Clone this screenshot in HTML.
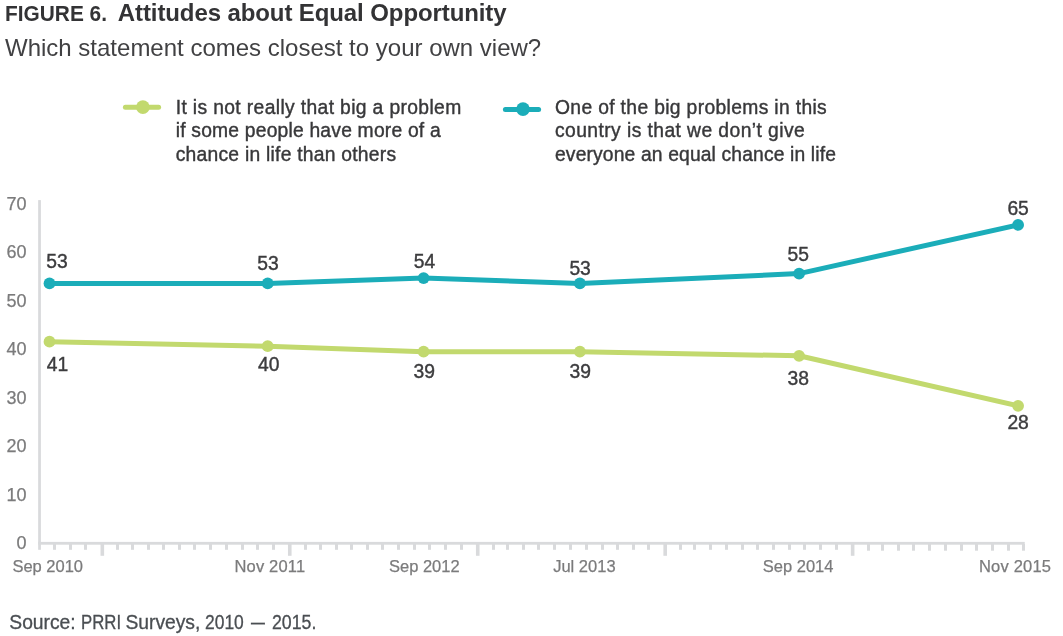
<!DOCTYPE html>
<html><head><meta charset="utf-8"><title>Figure 6</title>
<style>
html,body{margin:0;padding:0;background:#fff;}
body{width:1063px;height:636px;position:relative;overflow:hidden;font-family:"Liberation Sans",sans-serif;}
.t{position:absolute;white-space:nowrap;line-height:1;}
svg{position:absolute;left:0;top:0;}
.yl{color:#7b7b7c;-webkit-text-stroke:0.25px #7b7b7c;font-size:18px;width:30px;text-align:right;}
.xl{color:#7b7b7c;-webkit-text-stroke:0.25px #7b7b7c;font-size:16.5px;}
.dl{color:#3c3c3e;font-size:19.3px;-webkit-text-stroke:0.4px #3c3c3e;}
.lg{color:#38383a;font-size:19.3px;line-height:23.45px;letter-spacing:0.27px;-webkit-text-stroke:0.4px #38383a;}
</style></head><body>
<svg width="1063" height="636" viewBox="0 0 1063 636">
<rect x="38.15" y="200.1" width="2.75" height="349.7" fill="#d9dadc"/>
<rect x="38.15" y="541.9" width="986.6" height="2.8" fill="#d9dadc"/>
<rect x="53" y="544" width="3" height="5.8" fill="#d9dadc"/><rect x="69" y="544" width="3" height="5.8" fill="#d9dadc"/><rect x="84" y="544" width="3" height="5.8" fill="#d9dadc"/><rect x="100.52" y="544" width="3.6" height="11.8" fill="#d9dadc"/><rect x="116" y="544" width="3" height="5.8" fill="#d9dadc"/><rect x="131" y="544" width="3" height="5.8" fill="#d9dadc"/><rect x="147" y="544" width="3" height="5.8" fill="#d9dadc"/><rect x="162" y="544" width="3" height="5.8" fill="#d9dadc"/><rect x="178" y="544" width="3" height="5.8" fill="#d9dadc"/><rect x="193" y="544" width="3" height="5.8" fill="#d9dadc"/><rect x="209" y="544" width="3" height="5.8" fill="#d9dadc"/><rect x="225" y="544" width="3" height="5.8" fill="#d9dadc"/><rect x="241" y="544" width="3" height="5.8" fill="#d9dadc"/><rect x="256" y="544" width="3" height="5.8" fill="#d9dadc"/><rect x="272" y="544" width="3" height="5.8" fill="#d9dadc"/><rect x="287.97" y="544" width="3.6" height="11.8" fill="#d9dadc"/><rect x="304" y="544" width="3" height="5.8" fill="#d9dadc"/><rect x="319" y="544" width="3" height="5.8" fill="#d9dadc"/><rect x="335" y="544" width="3" height="5.8" fill="#d9dadc"/><rect x="350" y="544" width="3" height="5.8" fill="#d9dadc"/><rect x="366" y="544" width="3" height="5.8" fill="#d9dadc"/><rect x="381" y="544" width="3" height="5.8" fill="#d9dadc"/><rect x="397" y="544" width="3" height="5.8" fill="#d9dadc"/><rect x="413" y="544" width="3" height="5.8" fill="#d9dadc"/><rect x="428" y="544" width="3" height="5.8" fill="#d9dadc"/><rect x="444" y="544" width="3" height="5.8" fill="#d9dadc"/><rect x="460" y="544" width="3" height="5.8" fill="#d9dadc"/><rect x="475.94" y="544" width="3.6" height="11.8" fill="#d9dadc"/><rect x="492" y="544" width="3" height="5.8" fill="#d9dadc"/><rect x="506" y="544" width="3" height="5.8" fill="#d9dadc"/><rect x="522" y="544" width="3" height="5.8" fill="#d9dadc"/><rect x="537" y="544" width="3" height="5.8" fill="#d9dadc"/><rect x="553" y="544" width="3" height="5.8" fill="#d9dadc"/><rect x="569" y="544" width="3" height="5.8" fill="#d9dadc"/><rect x="585" y="544" width="3" height="5.8" fill="#d9dadc"/><rect x="601" y="544" width="3" height="5.8" fill="#d9dadc"/><rect x="616" y="544" width="3" height="5.8" fill="#d9dadc"/><rect x="632" y="544" width="3" height="5.8" fill="#d9dadc"/><rect x="647" y="544" width="3" height="5.8" fill="#d9dadc"/><rect x="663.39" y="544" width="3.6" height="11.8" fill="#d9dadc"/><rect x="679" y="544" width="3" height="5.8" fill="#d9dadc"/><rect x="693" y="544" width="3" height="5.8" fill="#d9dadc"/><rect x="709" y="544" width="3" height="5.8" fill="#d9dadc"/><rect x="725" y="544" width="3" height="5.8" fill="#d9dadc"/><rect x="741" y="544" width="3" height="5.8" fill="#d9dadc"/><rect x="756" y="544" width="3" height="5.8" fill="#d9dadc"/><rect x="772" y="544" width="3" height="5.8" fill="#d9dadc"/><rect x="788" y="544" width="3" height="5.8" fill="#d9dadc"/><rect x="803" y="544" width="3" height="5.8" fill="#d9dadc"/><rect x="819" y="544" width="3" height="5.8" fill="#d9dadc"/><rect x="835" y="544" width="3" height="5.8" fill="#d9dadc"/><rect x="850.84" y="544" width="3.6" height="11.8" fill="#d9dadc"/><rect x="867" y="544" width="3" height="6.7" fill="#d9dadc"/><rect x="881" y="544" width="3" height="6.7" fill="#d9dadc"/><rect x="897" y="544" width="3" height="6.7" fill="#d9dadc"/><rect x="912" y="544" width="3" height="6.7" fill="#d9dadc"/><rect x="928" y="544" width="3" height="6.7" fill="#d9dadc"/><rect x="944" y="544" width="3" height="6.7" fill="#d9dadc"/><rect x="960" y="544" width="3" height="6.7" fill="#d9dadc"/><rect x="975" y="544" width="3" height="6.7" fill="#d9dadc"/><rect x="991" y="544" width="3" height="6.7" fill="#d9dadc"/><rect x="1007" y="544" width="3" height="6.7" fill="#d9dadc"/><rect x="1022" y="544" width="3" height="6.7" fill="#d9dadc"/>
<polyline points="49.5,341.7 267.7,346.2 423.6,351.7 579.9,351.7 799.1,355.8 1018.1,405.8" fill="none" stroke="#c2d96e" stroke-width="5" stroke-linejoin="round" stroke-linecap="round"/><circle cx="49.5" cy="341.7" r="5.9" fill="#c2d96e"/><circle cx="267.7" cy="346.2" r="5.9" fill="#c2d96e"/><circle cx="423.6" cy="351.7" r="5.9" fill="#c2d96e"/><circle cx="579.9" cy="351.7" r="5.9" fill="#c2d96e"/><circle cx="799.1" cy="355.8" r="5.9" fill="#c2d96e"/><circle cx="1018.1" cy="405.8" r="5.9" fill="#c2d96e"/>
<polyline points="49.5,283.4 267.7,283.4 423.6,278.1 579.9,283.4 799.1,273.6 1018.1,224.9" fill="none" stroke="#1badb9" stroke-width="5" stroke-linejoin="round" stroke-linecap="round"/><circle cx="49.5" cy="283.4" r="5.9" fill="#1badb9"/><circle cx="267.7" cy="283.4" r="5.9" fill="#1badb9"/><circle cx="423.6" cy="278.1" r="5.9" fill="#1badb9"/><circle cx="579.9" cy="283.4" r="5.9" fill="#1badb9"/><circle cx="799.1" cy="273.6" r="5.9" fill="#1badb9"/><circle cx="1018.1" cy="224.9" r="5.9" fill="#1badb9"/>
<line x1="125.4" y1="107.35" x2="158.6" y2="107.35" stroke="#c2d96e" stroke-width="5" stroke-linecap="round"/>
<circle cx="142.9" cy="107.15" r="6.8" fill="#c2d96e"/>
<line x1="505.4" y1="109.45" x2="538.6" y2="109.45" stroke="#1badb9" stroke-width="5" stroke-linecap="round"/>
<circle cx="523" cy="109.1" r="6.8" fill="#1badb9"/>
</svg>
<div class="t " id="fig" style="left:5.00px;top:2.00px;font-size:22.8px;font-weight:bold;color:#333335;transform:scaleX(0.915);transform-origin:0 0;">FIGURE 6.</div>
<div class="t " id="ttl" style="left:117.80px;top:1.00px;font-size:24px;font-weight:bold;color:#333335;letter-spacing:-0.1px;">Attitudes about Equal Opportunity</div>
<div class="t " id="sub" style="left:5.00px;top:36.00px;font-size:24px;color:#414143;">Which statement comes closest to your own view?</div>
<div class="t lg" id="lg1" style="left:175.70px;top:96.00px;"><span style="letter-spacing:0.36px">It is not really that big a problem</span><br><span style="letter-spacing:0.2px">if some people have more of a</span><br><span style="letter-spacing:0.24px">chance in life than others</span></div>
<div class="t lg" id="lg2" style="left:555.00px;top:96.00px;"><span style="letter-spacing:0.34px">One of the big problems in this</span><br><span style="letter-spacing:0.42px">country is that we don’t give</span><br><span style="letter-spacing:0.14px">everyone an equal chance in life</span></div>
<div class="t yl" id="y0" style="left:-3.50px;top:534.00px;">0</div>
<div class="t yl" id="y10" style="left:-3.50px;top:486.00px;">10</div>
<div class="t yl" id="y20" style="left:-3.50px;top:437.00px;">20</div>
<div class="t yl" id="y30" style="left:-3.50px;top:389.00px;">30</div>
<div class="t yl" id="y40" style="left:-3.50px;top:340.00px;">40</div>
<div class="t yl" id="y50" style="left:-3.50px;top:292.00px;">50</div>
<div class="t yl" id="y60" style="left:-3.50px;top:243.00px;">60</div>
<div class="t yl" id="y70" style="left:-3.50px;top:195.00px;">70</div>
<div class="t xl" id="xSep2010" style="left:12.40px;top:558.00px;">Sep 2010</div>
<div class="t xl" id="xNov2011" style="left:234.40px;top:558.00px;letter-spacing:0.2px;">Nov 2011</div>
<div class="t xl" id="xSep2012" style="left:389.00px;top:558.00px;">Sep 2012</div>
<div class="t xl" id="xJul2013" style="left:553.20px;top:558.00px;">Jul 2013</div>
<div class="t xl" id="xSep2014" style="left:762.80px;top:558.00px;">Sep 2014</div>
<div class="t xl" id="xNov2015" style="left:979.00px;top:558.00px;letter-spacing:0.2px;">Nov 2015</div>
<div class="t dl" id="d0" style="left:46.35px;top:252.00px;">53</div>
<div class="t dl" id="d1" style="left:257.20px;top:254.00px;">53</div>
<div class="t dl" id="d2" style="left:413.80px;top:252.00px;">54</div>
<div class="t dl" id="d3" style="left:569.40px;top:259.00px;">53</div>
<div class="t dl" id="d4" style="left:787.60px;top:245.00px;">55</div>
<div class="t dl" id="d5" style="left:1007.40px;top:199.00px;">65</div>
<div class="t dl" id="d6" style="left:46.80px;top:355.00px;">41</div>
<div class="t dl" id="d7" style="left:258.00px;top:355.00px;">40</div>
<div class="t dl" id="d8" style="left:413.60px;top:362.00px;">39</div>
<div class="t dl" id="d9" style="left:569.50px;top:362.00px;">39</div>
<div class="t dl" id="d10" style="left:787.60px;top:369.00px;">38</div>
<div class="t dl" id="d11" style="left:1007.40px;top:413.00px;">28</div>
<div id="source">
<span class="t " id="s1" style="left:9.30px;top:613.00px;font-size:19.3px;color:#4a4e52;-webkit-text-stroke:0.3px #4a4e52;letter-spacing:-0.03px;">Source:</span> 
<span class="t " id="s2" style="left:81.20px;top:613.00px;font-size:19.3px;color:#4a4e52;-webkit-text-stroke:0.3px #4a4e52;transform-origin:0 50%;transform:scaleX(0.87);">PRRI</span> 
<span class="t " id="s3" style="left:125.50px;top:613.00px;font-size:19.3px;color:#4a4e52;-webkit-text-stroke:0.3px #4a4e52;letter-spacing:-0.03px;">Surveys,</span> 
<span class="t " id="s4" style="left:204.90px;top:613.00px;font-size:19.3px;color:#4a4e52;-webkit-text-stroke:0.3px #4a4e52;transform-origin:0 50%;transform:scaleX(0.905);">2010</span> 
<span class="t " id="s5" style="left:251.10px;top:613.00px;font-size:19.3px;color:#4a4e52;-webkit-text-stroke:0.3px #4a4e52;transform-origin:0 50%;transform:scaleX(0.72);">—</span> 
<span class="t " id="s6" style="left:272.30px;top:613.00px;font-size:19.3px;color:#4a4e52;-webkit-text-stroke:0.3px #4a4e52;transform-origin:0 50%;transform:scaleX(0.92);">2015.</span> 
</div>
</body></html>
